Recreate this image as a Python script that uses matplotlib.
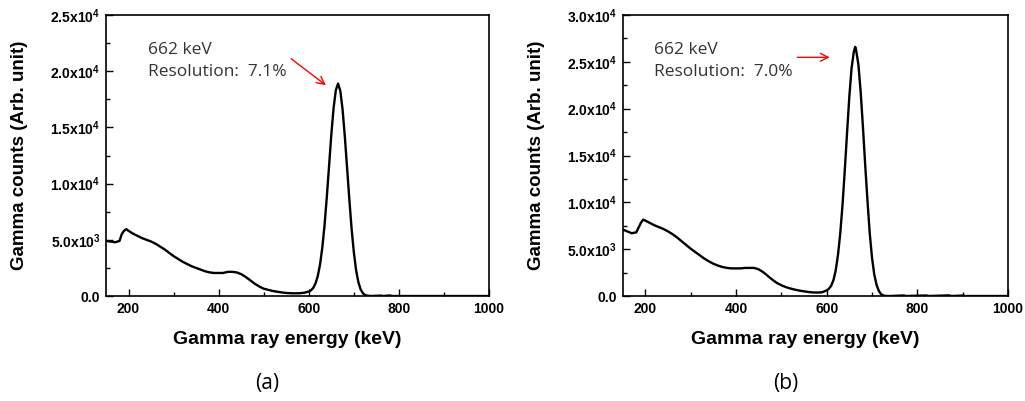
import matplotlib
matplotlib.use("Agg")
import matplotlib.pyplot as plt
from matplotlib.ticker import MultipleLocator, FixedLocator, FixedFormatter

plt.rcParams['font.family'] = ['Liberation Sans', 'DejaVu Sans']
plt.rcParams['mathtext.default'] = 'regular'

# energy (keV) and counts
energy_a = [150, 160, 170, 180, 185, 190, 195, 200, 210, 220, 230, 240, 250, 260, 270,
            280, 290, 300, 310, 320, 330, 340, 350, 360, 370, 380, 390, 400, 410, 420,
            430, 440, 450, 460, 470, 480, 490, 500, 510, 520, 530, 540, 550, 560, 570,
            580, 590, 600, 605, 610, 615, 620, 625, 630, 635, 640, 645, 650, 655, 660,
            665, 670, 675, 680, 685, 690, 695, 700, 705, 710, 715, 720, 725, 730, 735,
            740, 760, 765, 780, 785, 800, 850, 900, 1000]
counts_a = [4900, 4850, 4780, 4900, 5500, 5800, 5950, 5800, 5550, 5350, 5150, 5000, 4850, 4650, 4400,
            4150, 3850, 3550, 3300, 3050, 2850, 2650, 2500, 2350, 2200, 2100, 2050, 2050, 2050, 2150,
            2150, 2100, 1950, 1700, 1400, 1100, 850, 650, 550, 450, 380, 320, 270, 250, 240,
            250, 290, 400, 510, 730, 1130, 1780, 2800, 4300, 6300, 8800, 11550, 14350, 16700, 18300,
            18900, 18250, 16600, 14200, 11400, 8600, 6000, 3900, 2300, 1250, 600, 250, 90, 30, 10,
            0, 40, 0, 50, 0, 0, 0, 0, 0]

energy_b = [150, 160, 170, 180, 185, 190, 195, 200, 210, 220, 230, 240, 250, 260, 270,
            280, 290, 300, 310, 320, 330, 340, 350, 360, 370, 380, 390, 400, 410, 420,
            430, 440, 450, 460, 470, 480, 490, 500, 510, 520, 530, 540, 550, 560, 570,
            580, 590, 600, 605, 610, 615, 620, 625, 630, 635, 640, 645, 650, 655, 660,
            663, 665, 670, 675, 680, 685, 690, 695, 700, 705, 710, 715, 720, 725, 730,
            740, 770, 775, 820, 825, 870, 875, 900, 905, 950, 1000]
counts_b = [7100, 6900, 6700, 6800, 7300, 7800, 8150, 8050, 7800, 7550, 7350, 7150, 6900, 6600, 6250,
            5850, 5450, 5050, 4700, 4350, 4000, 3700, 3450, 3250, 3100, 3000, 2950, 2950, 2950, 3000,
            3000, 3000, 2850, 2550, 2150, 1750, 1400, 1150, 950, 800, 680, 580, 500, 430, 380,
            370, 400, 600, 780, 1100, 1700, 2750, 4400, 6700, 9750, 13450, 17450, 21300, 24350, 26100,
            26600, 26250, 24700, 21800, 18050, 14000, 10200, 6700, 4100, 2300, 1200, 550, 200, 60, 10,
            0, 60, 0, 60, 0, 70, 0, 50, 0, 0, 0]

panels = [
    dict(x=energy_a, y=counts_a, ymax=25000,
         yticks=[0, 5000, 10000, 15000, 20000, 25000],
         ylabels=["0.0", "5.0x10$^{3}$", "1.0x10$^{4}$", "1.5x10$^{4}$", "2.0x10$^{4}$", "2.5x10$^{4}$"],
         res="7.1%", text_xy=(148, 50), arrow_from=(556, 21260), arrow_to=(643, 18600),
         rect=[0.1034, 0.2618, 0.3737, 0.7008], tag="(a)"),
    dict(x=energy_b, y=counts_b, ymax=30000,
         yticks=[0, 5000, 10000, 15000, 20000, 25000, 30000],
         ylabels=["0.0", "5.0x10$^{3}$", "1.0x10$^{4}$", "1.5x10$^{4}$", "2.0x10$^{4}$",
                  "2.5x10$^{4}$", "3.0x10$^{4}$"],
         res="7.0%", text_xy=(654, 50), arrow_from=(529, 25480), arrow_to=(613, 25480),
         rect=[0.6075, 0.2618, 0.3759, 0.7008], tag="(b)"),
]

fig = plt.figure(figsize=(10.25, 4.01), dpi=100)
W, H = 1025.0, 401.0

for p in panels:
    ax = fig.add_axes(p["rect"])
    ax.plot(p["x"], p["y"], color="black", lw=1.7)
    ax.set_xlim(150, 1000)
    ax.set_ylim(0, p["ymax"])
    ax.xaxis.set_major_locator(FixedLocator([200, 400, 600, 800, 1000]))
    ax.xaxis.set_minor_locator(MultipleLocator(100))
    ax.yaxis.set_major_locator(FixedLocator(p["yticks"]))
    ax.yaxis.set_major_formatter(FixedFormatter(p["ylabels"]))
    ax.yaxis.set_minor_locator(MultipleLocator(2500))
    ax.tick_params(which="both", direction="in", top=False, right=False, width=1)
    ax.tick_params(which="major", length=5, labelsize=10, pad=4)
    ax.tick_params(which="minor", length=3)
    for lab in ax.get_xticklabels() + ax.get_yticklabels():
        lab.set_fontweight("bold")
    for s in ax.spines.values():
        s.set_linewidth(1.2)

    # annotation text in figure pixels
    tx, ty = p["text_xy"]
    fig.text(tx / W, 1 - ty / H, "662 keV", fontsize=12.5, family="Open Sans",
             color="#333333", va="center", ha="left")
    fig.text(tx / W, 1 - (ty + 22) / H, "Resolution:  " + p["res"], fontsize=12.5,
             family="Open Sans", color="#333333", va="center", ha="left")
    ax.annotate("", xy=p["arrow_to"], xytext=p["arrow_from"],
                arrowprops=dict(arrowstyle="->", color="red", lw=1.0,
                                mutation_scale=14))

    x0 = p["rect"][0] * W
    xw = p["rect"][2] * W
    fig.text((x0 + xw / 2 - 10) / W, 1 - 340 / H, "Gamma ray energy (keV)",
             fontsize=14, fontweight="bold", ha="center", va="center")
    fig.text((x0 - 86) / W, 1 - 155 / H, "Gamma counts (Arb. unit)",
             fontsize=13.5, fontweight="bold", ha="center", va="center", rotation=90)
    fig.text((x0 + xw / 2 - 30) / W, 1 - 383 / H, p["tag"], fontsize=15,
             family="Open Sans", ha="center", va="center")

fig.savefig("out.png", dpi=100)
